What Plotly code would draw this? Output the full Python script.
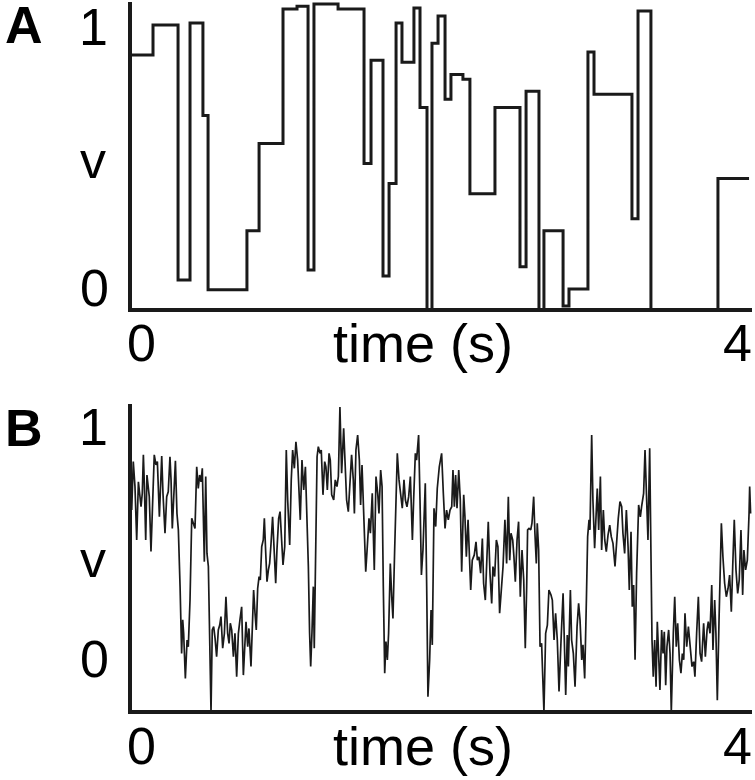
import plotly.graph_objects as go

# ---------------- Panel A: step (telegraph-like) signal ----------------
a_time = [0.000, 0.148, 0.309, 0.386, 0.469, 0.502, 0.752, 0.830, 0.984, 1.074,
          1.145, 1.183, 1.338, 1.505, 1.550, 1.627, 1.666, 1.711, 1.749, 1.826,
          1.865, 1.910, 1.942, 1.981, 2.026, 2.064, 2.141, 2.186, 2.347, 2.508,
          2.547, 2.630, 2.662, 2.785, 2.823, 2.945, 2.984, 3.228, 3.267, 3.350,
          3.781, 3.981]
a_value = [0.833, 0.931, 0.098, 0.938, 0.636, 0.066, 0.259, 0.544, 0.984, 0.993,
           0.131, 1.000, 0.984, 0.479, 0.816, 0.111, 0.413, 0.938, 0.810, 0.987,
           0.662, 0.000, 0.872, 0.961, 0.689, 0.770, 0.754, 0.380, 0.662, 0.141,
           0.715, 0.000, 0.259, 0.013, 0.069, 0.843, 0.705, 0.298, 0.977, 0.000,
           0.430, 0.430]

# ---------------- Panel B: noisy signal ----------------
b_time = [0.011, 0.021, 0.032, 0.043, 0.054, 0.064, 0.071, 0.079, 0.086, 0.092,
          0.101, 0.109, 0.118, 0.124, 0.135, 0.144, 0.156, 0.167, 0.176, 0.189,
          0.204, 0.212, 0.225, 0.236, 0.246, 0.257, 0.264, 0.272, 0.281, 0.292,
          0.302, 0.311, 0.322, 0.332, 0.339, 0.345, 0.356, 0.367, 0.375, 0.386,
          0.397, 0.407, 0.418, 0.429, 0.439, 0.448, 0.457, 0.465, 0.474, 0.478,
          0.487, 0.495, 0.504, 0.514, 0.521, 0.529, 0.538, 0.547, 0.557, 0.568,
          0.577, 0.585, 0.596, 0.607, 0.617, 0.628, 0.637, 0.645, 0.654, 0.665,
          0.675, 0.686, 0.697, 0.707, 0.718, 0.729, 0.740, 0.746, 0.757, 0.765,
          0.778, 0.787, 0.795, 0.804, 0.812, 0.821, 0.830, 0.838, 0.847, 0.857,
          0.864, 0.872, 0.881, 0.890, 0.898, 0.907, 0.917, 0.928, 0.937, 0.945,
          0.956, 0.965, 0.975, 0.984, 0.995, 1.005, 1.014, 1.027, 1.037, 1.046,
          1.057, 1.067, 1.078, 1.087, 1.095, 1.106, 1.117, 1.128, 1.138, 1.147,
          1.155, 1.162, 1.170, 1.179, 1.185, 1.194, 1.203, 1.211, 1.222, 1.230,
          1.241, 1.252, 1.260, 1.269, 1.280, 1.288, 1.297, 1.310, 1.320, 1.331,
          1.340, 1.350, 1.361, 1.374, 1.383, 1.393, 1.404, 1.415, 1.425, 1.436,
          1.443, 1.453, 1.464, 1.475, 1.483, 1.492, 1.503, 1.516, 1.526, 1.537,
          1.546, 1.558, 1.571, 1.582, 1.593, 1.601, 1.612, 1.621, 1.629, 1.638,
          1.646, 1.655, 1.663, 1.674, 1.683, 1.691, 1.702, 1.711, 1.719, 1.730,
          1.741, 1.751, 1.762, 1.771, 1.781, 1.792, 1.803, 1.816, 1.824, 1.835,
          1.843, 1.856, 1.865, 1.874, 1.884, 1.899, 1.908, 1.916, 1.927, 1.936,
          1.944, 1.955, 1.966, 1.976, 1.989, 2.004, 2.015, 2.026, 2.036, 2.047,
          2.058, 2.069, 2.077, 2.086, 2.094, 2.103, 2.114, 2.124, 2.133, 2.146,
          2.154, 2.163, 2.174, 2.182, 2.191, 2.201, 2.214, 2.225, 2.234, 2.244,
          2.255, 2.266, 2.274, 2.285, 2.296, 2.304, 2.315, 2.326, 2.334, 2.345,
          2.356, 2.366, 2.377, 2.388, 2.399, 2.411, 2.422, 2.433, 2.442, 2.450,
          2.461, 2.469, 2.478, 2.489, 2.499, 2.510, 2.521, 2.532, 2.542, 2.551,
          2.557, 2.566, 2.577, 2.585, 2.596, 2.604, 2.613, 2.619, 2.628, 2.637,
          2.647, 2.662, 2.673, 2.684, 2.694, 2.707, 2.716, 2.727, 2.737, 2.748,
          2.759, 2.772, 2.785, 2.793, 2.802, 2.812, 2.819, 2.832, 2.840, 2.851,
          2.862, 2.875, 2.885, 2.894, 2.905, 2.913, 2.924, 2.935, 2.943, 2.952,
          2.958, 2.969, 2.977, 2.988, 2.997, 3.005, 3.014, 3.025, 3.033, 3.044,
          3.053, 3.063, 3.074, 3.085, 3.095, 3.106, 3.119, 3.130, 3.140, 3.151,
          3.162, 3.170, 3.181, 3.192, 3.203, 3.211, 3.222, 3.230, 3.239, 3.248,
          3.258, 3.271, 3.282, 3.290, 3.303, 3.312, 3.320, 3.331, 3.342, 3.350,
          3.357, 3.365, 3.374, 3.383, 3.391, 3.400, 3.408, 3.419, 3.428, 3.436,
          3.445, 3.453, 3.464, 3.473, 3.481, 3.494, 3.503, 3.513, 3.522, 3.533,
          3.543, 3.552, 3.561, 3.569, 3.580, 3.591, 3.603, 3.614, 3.625, 3.633,
          3.644, 3.655, 3.666, 3.676, 3.689, 3.700, 3.711, 3.719, 3.730, 3.741,
          3.749, 3.760, 3.768, 3.777, 3.788, 3.803, 3.813, 3.824, 3.835, 3.846,
          3.856, 3.867, 3.876, 3.886, 3.897, 3.908, 3.918, 3.929, 3.940, 3.948,
          3.959, 3.970, 3.981, 3.985, 3.991]
b_value = [0.662, 0.821, 0.739, 0.564, 0.755, 0.706, 0.673, 0.717, 0.843, 0.750,
           0.564, 0.777, 0.733, 0.706, 0.526, 0.695, 0.843, 0.810, 0.821, 0.640,
           0.839, 0.717, 0.586, 0.706, 0.722, 0.837, 0.761, 0.602, 0.728, 0.824,
           0.651, 0.597, 0.411, 0.192, 0.302, 0.258, 0.110, 0.236, 0.214, 0.367,
           0.635, 0.619, 0.602, 0.804, 0.733, 0.777, 0.755, 0.799, 0.586, 0.493,
           0.772, 0.520, 0.477, 0.258, 0.000, 0.269, 0.280, 0.242, 0.181, 0.269,
           0.285, 0.313, 0.209, 0.258, 0.378, 0.258, 0.225, 0.291, 0.269, 0.181,
           0.258, 0.116, 0.258, 0.302, 0.345, 0.121, 0.225, 0.296, 0.214, 0.274,
           0.149, 0.334, 0.400, 0.324, 0.269, 0.405, 0.444, 0.433, 0.542, 0.564,
           0.635, 0.531, 0.427, 0.466, 0.487, 0.553, 0.640, 0.520, 0.422, 0.531,
           0.635, 0.657, 0.564, 0.482, 0.542, 0.859, 0.695, 0.548, 0.761, 0.859,
           0.799, 0.886, 0.826, 0.717, 0.630, 0.826, 0.728, 0.804, 0.662, 0.477,
           0.258, 0.149, 0.258, 0.411, 0.209, 0.586, 0.837, 0.870, 0.848, 0.859,
           0.712, 0.821, 0.804, 0.728, 0.848, 0.826, 0.712, 0.695, 0.761, 0.739,
           0.772, 1.000, 0.783, 0.930, 0.793, 0.695, 0.657, 0.739, 0.843, 0.761,
           0.651, 0.859, 0.908, 0.826, 0.679, 0.810, 0.662, 0.460, 0.542, 0.635,
           0.586, 0.717, 0.466, 0.772, 0.717, 0.651, 0.793, 0.739, 0.411, 0.127,
           0.231, 0.171, 0.258, 0.487, 0.378, 0.307, 0.531, 0.706, 0.848, 0.761,
           0.717, 0.668, 0.761, 0.695, 0.673, 0.706, 0.772, 0.564, 0.695, 0.848,
           0.826, 0.908, 0.695, 0.449, 0.531, 0.750, 0.411, 0.050, 0.171, 0.334,
           0.220, 0.668, 0.608, 0.733, 0.804, 0.848, 0.717, 0.602, 0.662, 0.630,
           0.662, 0.673, 0.793, 0.673, 0.777, 0.668, 0.793, 0.695, 0.460, 0.712,
           0.640, 0.509, 0.630, 0.542, 0.400, 0.498, 0.515, 0.558, 0.498, 0.509,
           0.455, 0.569, 0.422, 0.367, 0.509, 0.624, 0.455, 0.356, 0.477, 0.444,
           0.564, 0.542, 0.324, 0.400, 0.477, 0.630, 0.487, 0.706, 0.498, 0.586,
           0.564, 0.509, 0.427, 0.564, 0.624, 0.378, 0.531, 0.433, 0.209, 0.411,
           0.597, 0.602, 0.597, 0.619, 0.706, 0.586, 0.487, 0.619, 0.531, 0.214,
           0.225, 0.000, 0.258, 0.285, 0.400, 0.384, 0.367, 0.236, 0.324, 0.236,
           0.067, 0.236, 0.389, 0.236, 0.056, 0.252, 0.149, 0.400, 0.236, 0.192,
           0.083, 0.280, 0.356, 0.302, 0.171, 0.220, 0.110, 0.367, 0.575, 0.630,
           0.597, 0.908, 0.695, 0.537, 0.619, 0.733, 0.597, 0.772, 0.531, 0.662,
           0.564, 0.526, 0.580, 0.613, 0.575, 0.553, 0.477, 0.564, 0.635, 0.690,
           0.673, 0.586, 0.520, 0.662, 0.542, 0.400, 0.591, 0.345, 0.416, 0.171,
           0.455, 0.679, 0.640, 0.673, 0.717, 0.859, 0.750, 0.564, 0.865, 0.564,
           0.236, 0.116, 0.236, 0.083, 0.296, 0.181, 0.072, 0.269, 0.192, 0.263,
           0.088, 0.214, 0.269, 0.192, 0.000, 0.258, 0.378, 0.214, 0.291, 0.171,
           0.127, 0.192, 0.171, 0.324, 0.214, 0.280, 0.198, 0.149, 0.165, 0.116,
           0.258, 0.378, 0.192, 0.165, 0.291, 0.181, 0.269, 0.296, 0.258, 0.416,
           0.203, 0.367, 0.258, 0.039, 0.302, 0.619, 0.509, 0.422, 0.378, 0.405,
           0.449, 0.329, 0.477, 0.630, 0.466, 0.389, 0.433, 0.597, 0.384, 0.531,
           0.466, 0.498, 0.651, 0.739, 0.651]

# ---------------- text ----------------
panel_letters = ["A", "B"]
x_tick_labels = ["0", "4"]
y_tick_labels = ["0", "1"]
x_title = "time (s)"
y_title = "v"

# ---------------- layout geometry (pixels) ----------------
W, H = 755, 780
ML, MR, MT, MB = 130, 3, 2, 68
PW, PH = W - ML - MR, H - MT - MB
BOTTOM = H - MB


def px(x):
    return (x - ML) / PW


def py(y):
    return (BOTTOM - y) / PH


FONT = "Liberation Sans, Arial, Helvetica, sans-serif"
FS = 52
INK = "#1a1a1a"
AXW = 4

fig = go.Figure()
fig.add_trace(go.Scatter(x=a_time, y=a_value, mode="lines", line_shape="hv",
                         line=dict(color=INK, width=3), xaxis="x", yaxis="y",
                         showlegend=False, hoverinfo="skip"))
fig.add_trace(go.Scatter(x=b_time, y=b_value, mode="lines",
                         line=dict(color=INK, width=1.7), xaxis="x2", yaxis="y2",
                         showlegend=False, hoverinfo="skip"))

axis_common = dict(showline=False, showgrid=False, zeroline=False,
                   showticklabels=False, ticks="", fixedrange=True)

# panel A: value 0 at y=310 px, 1 at y=4 px; panel B: 0 at 712, 1 at 407
panels = [dict(top=MT, zero=310, one=4), dict(top=404, zero=712, one=407)]
for p in panels:
    p["range"] = [0, (p["zero"] - p["top"]) / (p["zero"] - p["one"])]

fig.update_layout(
    width=W, height=H,
    margin=dict(l=ML, r=MR, t=MT, b=MB, pad=0),
    paper_bgcolor="white", plot_bgcolor="white",
    xaxis=dict(domain=[0, 1], range=[0, 4], anchor="y", **axis_common),
    yaxis=dict(domain=[py(panels[0]["zero"]), py(panels[0]["top"])], anchor="x",
               range=panels[0]["range"], **axis_common),
    xaxis2=dict(domain=[0, 1], range=[0, 4], anchor="y2", **axis_common),
    yaxis2=dict(domain=[py(panels[1]["zero"]), py(panels[1]["top"])], anchor="x2",
                range=panels[1]["range"], **axis_common),
)

# axis lines drawn centred on the zero level / time origin
shapes = []
for p in panels:
    shapes.append(dict(type="line", xref="paper", yref="paper", layer="above",
                       x0=px(ML), x1=px(ML), y0=py(p["zero"] + AXW / 2), y1=py(p["top"]),
                       line=dict(color=INK, width=AXW)))
    shapes.append(dict(type="line", xref="paper", yref="paper", layer="above",
                       x0=px(ML - AXW / 2), x1=1, y0=py(p["zero"]), y1=py(p["zero"]),
                       line=dict(color=INK, width=AXW)))
fig.update_layout(shapes=shapes)

ann = []


def add_text(text, x, y, bold=False, xanchor="center", size=FS):
    ann.append(dict(text=("<b>%s</b>" % text) if bold else text,
                    x=px(x), y=py(y), xref="paper", yref="paper",
                    xanchor=xanchor, yanchor="middle", showarrow=False,
                    font=dict(family=FONT, size=size, color="black")))


# ink centres of labels (pixels) for each panel
for letter, (ly, y1, yv, y0, yx) in zip(panel_letters,
                                         [(25, 27, 160, 288, 343),
                                          (428, 427, 559, 659, 746)]):
    add_text(letter, 24, ly, bold=True)
    add_text(y_tick_labels[1], 93, y1)
    add_text(y_title, 93, yv)
    add_text(y_tick_labels[0], 94, y0)
    add_text(x_tick_labels[0], 141, yx)
    add_text(x_title, 423, yx, size=54)
    add_text(x_tick_labels[1], 737, yx)

fig.update_layout(annotations=ann)
fig.write_html("out.html", config={"displayModeBar": False})
